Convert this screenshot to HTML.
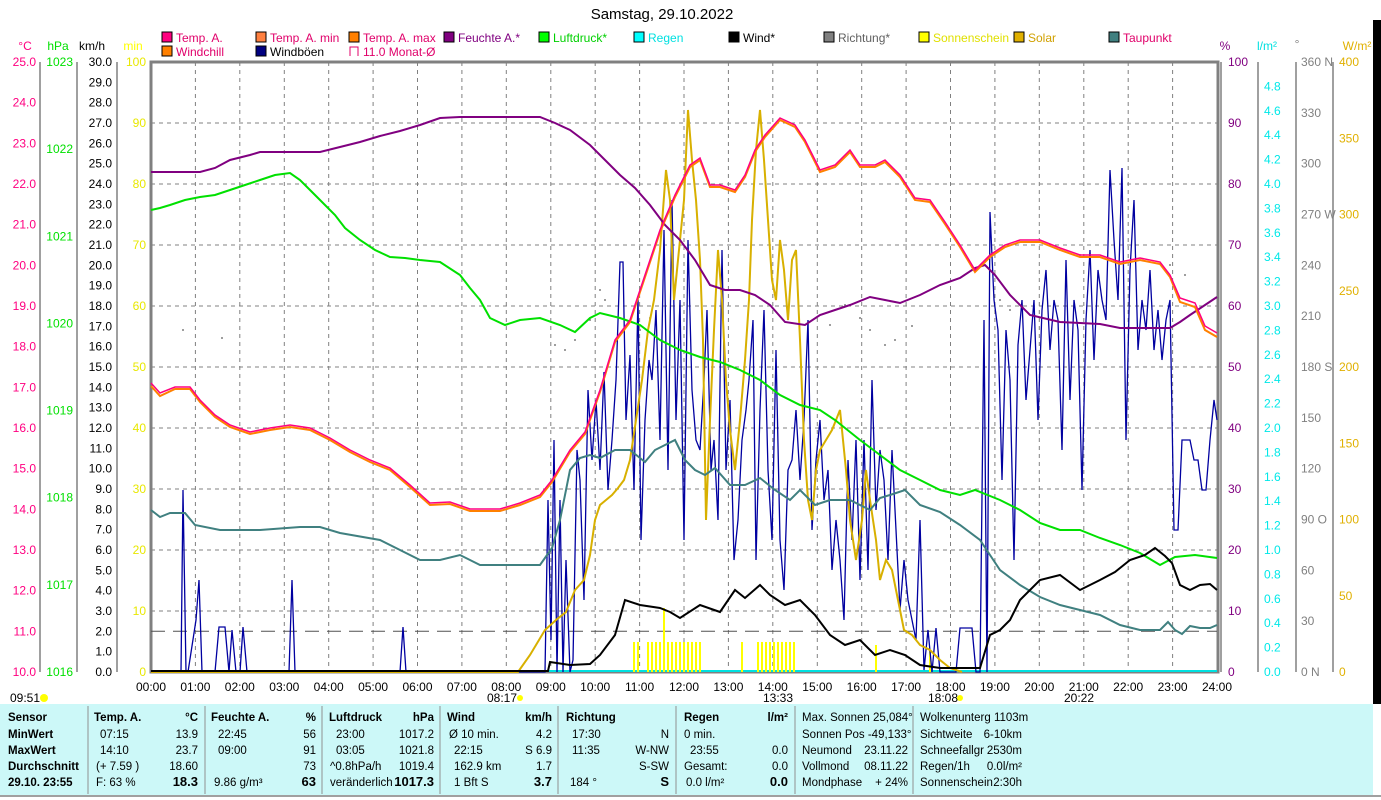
<!DOCTYPE html>
<html><head><meta charset="utf-8"><style>
body{margin:0;background:#fff;width:1381px;height:800px;overflow:hidden;font-family:"Liberation Sans",sans-serif}
svg{position:absolute;left:0;top:0}
</style></head><body>
<svg width="1381" height="800" viewBox="0 0 1381 800" font-family="Liberation Sans, sans-serif" font-size="12">
<rect x="1373" y="20" width="8" height="684" fill="#000"/>
<text x="662" y="19" text-anchor="middle" font-size="15">Samstag, 29.10.2022</text>
<g font-size="12">
<rect x="162" y="32" width="10" height="10" fill="#ff0080" stroke="#000"/><text x="176" y="42" fill="#e0006a">Temp. A.</text>
<rect x="256" y="32" width="10" height="10" fill="#ff8040" stroke="#000"/><text x="270" y="42" fill="#e0006a">Temp. A. min</text>
<rect x="349" y="32" width="10" height="10" fill="#ff8000" stroke="#000"/><text x="363" y="42" fill="#e0006a">Temp. A. max</text>
<rect x="444" y="32" width="10" height="10" fill="#800080" stroke="#000"/><text x="458" y="42" fill="#800080">Feuchte A.*</text>
<rect x="539" y="32" width="10" height="10" fill="#00ff00" stroke="#000"/><text x="553" y="42" fill="#00d000">Luftdruck*</text>
<rect x="634" y="32" width="10" height="10" fill="#00ffff" stroke="#000"/><text x="648" y="42" fill="#00e0e0">Regen</text>
<rect x="729" y="32" width="10" height="10" fill="#000" stroke="#000"/><text x="743" y="42">Wind*</text>
<rect x="824" y="32" width="10" height="10" fill="#808080" stroke="#000"/><text x="838" y="42" fill="#606060">Richtung*</text>
<rect x="919" y="32" width="10" height="10" fill="#ffff00" stroke="#000"/><text x="933" y="42" fill="#e0e000">Sonnenschein</text>
<rect x="1014" y="32" width="10" height="10" fill="#e0b000" stroke="#000"/><text x="1028" y="42" fill="#d0a000">Solar</text>
<rect x="1109" y="32" width="10" height="10" fill="#408080" stroke="#000"/><text x="1123" y="42" fill="#e0006a">Taupunkt</text>
<rect x="162" y="46" width="10" height="10" fill="#ff8000" stroke="#000"/><text x="176" y="56" fill="#e0006a">Windchill</text>
<rect x="256" y="46" width="10" height="10" fill="#000080" stroke="#000"/><text x="270" y="56">Windböen</text>
<path d="M350 56V47h8v9" fill="none" stroke="#e0006a"/><text x="363" y="56" fill="#e0006a">11.0 Monat-Ø</text>
</g>
<text x="25" y="50" fill="#ff0080" text-anchor="middle">°C</text>
<text x="58" y="50" fill="#00e000" text-anchor="middle">hPa</text>
<text x="92" y="50" text-anchor="middle">km/h</text>
<text x="133" y="50" fill="#ffff00" text-anchor="middle">min</text>
<text x="1225" y="50" fill="#800080" text-anchor="middle">%</text>
<text x="1267" y="50" fill="#00e0e0" text-anchor="middle">l/m²</text>
<text x="1297" y="48" fill="#808080" text-anchor="middle">°</text>
<text x="1357" y="50" fill="#e0b000" text-anchor="middle">W/m²</text>
<g stroke="#808080" stroke-width="1.5">
<line x1="40" y1="62" x2="40" y2="672"/><line x1="77" y1="62" x2="77" y2="672"/><line x1="117" y1="62" x2="117" y2="672"/>
<line x1="1258" y1="62" x2="1258" y2="672"/><line x1="1296" y1="62" x2="1296" y2="672"/><line x1="1333" y1="62" x2="1333" y2="672"/>
</g>
<g stroke="#808080" stroke-dasharray="4,4" stroke-width="1">
<path d="M195.4 62V672M239.8 62V672M284.3 62V672M328.7 62V672M373.1 62V672M417.5 62V672M461.9 62V672M506.3 62V672M550.8 62V672M595.2 62V672M639.6 62V672M684 62V672M728.4 62V672M772.8 62V672M817.3 62V672M861.7 62V672M906.1 62V672M950.5 62V672M994.9 62V672M1039.3 62V672M1083.8 62V672M1128.2 62V672M1172.6 62V672"/>
<path d="M151 123H1217M151 184H1217M151 245H1217M151 306H1217M151 367H1217M151 428H1217M151 489H1217M151 550H1217M151 611H1217"/>
</g>
<rect x="151" y="62" width="1067" height="610" fill="none" stroke="#808080" stroke-width="3"/>
<line x1="1221" y1="62" x2="1221" y2="672" stroke="#808080" stroke-width="1.5"/>
<g fill="#ff0080" text-anchor="end" dominant-baseline="central">
<text x="36" y="62">25.0</text><text x="36" y="102.7">24.0</text><text x="36" y="143.3">23.0</text><text x="36" y="184">22.0</text><text x="36" y="224.7">21.0</text><text x="36" y="265.3">20.0</text><text x="36" y="306">19.0</text><text x="36" y="346.7">18.0</text><text x="36" y="387.3">17.0</text><text x="36" y="428">16.0</text><text x="36" y="468.7">15.0</text><text x="36" y="509.3">14.0</text><text x="36" y="550">13.0</text><text x="36" y="590.7">12.0</text><text x="36" y="631.3">11.0</text><text x="36" y="672">10.0</text>
</g>
<g fill="#00e000" text-anchor="end" dominant-baseline="central">
<text x="73" y="62">1023</text><text x="73" y="149.1">1022</text><text x="73" y="236.3">1021</text><text x="73" y="323.4">1020</text><text x="73" y="410.6">1019</text><text x="73" y="497.7">1018</text><text x="73" y="584.9">1017</text><text x="73" y="672">1016</text>
</g>
<g text-anchor="end" dominant-baseline="central">
<text x="112" y="62">30.0</text><text x="112" y="82.3">29.0</text><text x="112" y="102.7">28.0</text><text x="112" y="123">27.0</text><text x="112" y="143.3">26.0</text><text x="112" y="163.7">25.0</text><text x="112" y="184">24.0</text><text x="112" y="204.3">23.0</text><text x="112" y="224.7">22.0</text><text x="112" y="245">21.0</text><text x="112" y="265.3">20.0</text><text x="112" y="285.7">19.0</text><text x="112" y="306">18.0</text><text x="112" y="326.3">17.0</text><text x="112" y="346.7">16.0</text><text x="112" y="367">15.0</text><text x="112" y="387.3">14.0</text><text x="112" y="407.7">13.0</text><text x="112" y="428">12.0</text><text x="112" y="448.3">11.0</text><text x="112" y="468.7">10.0</text><text x="112" y="489">9.0</text><text x="112" y="509.3">8.0</text><text x="112" y="529.7">7.0</text><text x="112" y="550">6.0</text><text x="112" y="570.3">5.0</text><text x="112" y="590.7">4.0</text><text x="112" y="611">3.0</text><text x="112" y="631.3">2.0</text><text x="112" y="651.7">1.0</text><text x="112" y="672">0.0</text>
</g>
<g fill="#e8e800" text-anchor="end" dominant-baseline="central">
<text x="146" y="62">100</text><text x="146" y="123">90</text><text x="146" y="184">80</text><text x="146" y="245">70</text><text x="146" y="306">60</text><text x="146" y="367">50</text><text x="146" y="428">40</text><text x="146" y="489">30</text><text x="146" y="550">20</text><text x="146" y="611">10</text><text x="146" y="672">0</text>
</g>
<g fill="#800080" dominant-baseline="central">
<text x="1228" y="62">100</text><text x="1228" y="123">90</text><text x="1228" y="184">80</text><text x="1228" y="245">70</text><text x="1228" y="306">60</text><text x="1228" y="367">50</text><text x="1228" y="428">40</text><text x="1228" y="489">30</text><text x="1228" y="550">20</text><text x="1228" y="611">10</text><text x="1228" y="672">0</text>
</g>
<g fill="#00e8e8" dominant-baseline="central">
<text x="1264" y="86.4">4.8</text><text x="1264" y="110.8">4.6</text><text x="1264" y="135.2">4.4</text><text x="1264" y="159.6">4.2</text><text x="1264" y="184">4.0</text><text x="1264" y="208.4">3.8</text><text x="1264" y="232.8">3.6</text><text x="1264" y="257.2">3.4</text><text x="1264" y="281.6">3.2</text><text x="1264" y="306">3.0</text><text x="1264" y="330.4">2.8</text><text x="1264" y="354.8">2.6</text><text x="1264" y="379.2">2.4</text><text x="1264" y="403.6">2.2</text><text x="1264" y="428">2.0</text><text x="1264" y="452.4">1.8</text><text x="1264" y="476.8">1.6</text><text x="1264" y="501.2">1.4</text><text x="1264" y="525.6">1.2</text><text x="1264" y="550">1.0</text><text x="1264" y="574.4">0.8</text><text x="1264" y="598.8">0.6</text><text x="1264" y="623.2">0.4</text><text x="1264" y="647.6">0.2</text><text x="1264" y="672">0.0</text>
</g>
<g fill="#808080" dominant-baseline="central">
<text x="1301" y="62">360 N</text><text x="1301" y="112.8">330</text><text x="1301" y="163.7">300</text><text x="1301" y="214.5">270 W</text><text x="1301" y="265.3">240</text><text x="1301" y="316.2">210</text><text x="1301" y="367">180 S</text><text x="1301" y="417.8">150</text><text x="1301" y="468.7">120</text><text x="1301" y="519.5">90  O</text><text x="1301" y="570.3">60</text><text x="1301" y="621.2">30</text><text x="1301" y="672">0   N</text>
</g>
<g fill="#e0b000" dominant-baseline="central">
<text x="1339" y="62">400</text><text x="1339" y="138.3">350</text><text x="1339" y="214.5">300</text><text x="1339" y="290.8">250</text><text x="1339" y="367">200</text><text x="1339" y="443.3">150</text><text x="1339" y="519.5">100</text><text x="1339" y="595.8">50</text><text x="1339" y="672">0</text>
</g>
<g text-anchor="middle">
<text x="151" y="691">00:00</text><text x="195.4" y="691">01:00</text><text x="239.8" y="691">02:00</text><text x="284.3" y="691">03:00</text><text x="328.7" y="691">04:00</text><text x="373.1" y="691">05:00</text><text x="417.5" y="691">06:00</text><text x="461.9" y="691">07:00</text><text x="506.3" y="691">08:00</text><text x="550.8" y="691">09:00</text><text x="595.2" y="691">10:00</text><text x="639.6" y="691">11:00</text><text x="684" y="691">12:00</text><text x="728.4" y="691">13:00</text><text x="772.8" y="691">14:00</text><text x="817.3" y="691">15:00</text><text x="861.7" y="691">16:00</text><text x="906.1" y="691">17:00</text><text x="950.5" y="691">18:00</text><text x="994.9" y="691">19:00</text><text x="1039.3" y="691">20:00</text><text x="1083.8" y="691">21:00</text><text x="1128.2" y="691">22:00</text><text x="1172.6" y="691">23:00</text><text x="1217" y="691">24:00</text>
</g>
<g font-size="12">
<text x="10" y="702">09:51</text><circle cx="44" cy="698" r="4" fill="#ff0"/>
<text x="487" y="702">08:17</text><circle cx="520" cy="698" r="3" fill="#ff0"/>
<text x="763" y="702">13:33</text>
<text x="928" y="702">18:08</text><circle cx="960" cy="698" r="3" fill="#ff0"/>
<text x="1064" y="702">20:22</text>
</g>
<line x1="151" y1="631.3" x2="1217" y2="631.3" stroke="#505050" stroke-dasharray="14,8" stroke-width="1"/>
<line x1="151" y1="671" x2="1217" y2="671" stroke="#00e0e0" stroke-width="2"/>
<g stroke="#ffff00" stroke-width="2">
<path d="M634 672V642M638 672V642M648 672V642M652 672V642M656 672V642M660 672V642M664 672V608M668 672V642M672 672V642M676 672V642M680 672V642M684 672V642M688 672V642M692 672V642M696 672V642M700 672V642M742 672V642M758 672V642M762 672V642M766 672V642M770 672V642M774 672V642M778 672V642M782 672V642M786 672V642M790 672V642M794 672V642M876 672V645M930 672V650"/>
</g>
<g fill="#808080">
<circle cx="183" cy="330" r="1"/><circle cx="222" cy="338" r="1"/><circle cx="555" cy="345" r="1"/><circle cx="565" cy="350" r="1"/><circle cx="575" cy="340" r="1"/><circle cx="590" cy="320" r="1"/><circle cx="600" cy="290" r="1"/><circle cx="605" cy="300" r="1"/><circle cx="640" cy="330" r="1"/><circle cx="650" cy="318" r="1"/><circle cx="830" cy="325" r="1"/><circle cx="845" cy="305" r="1"/><circle cx="860" cy="318" r="1"/><circle cx="870" cy="330" r="1"/><circle cx="885" cy="345" r="1"/><circle cx="895" cy="340" r="1"/><circle cx="912" cy="326" r="1"/><circle cx="1000" cy="300" r="1"/><circle cx="1010" cy="310" r="1"/><circle cx="1060" cy="250" r="1"/><circle cx="1080" cy="255" r="1"/><circle cx="1170" cy="265" r="1"/><circle cx="1185" cy="275" r="1"/>
</g>
<polyline fill="none" stroke="#0000a0" stroke-width="1.3" points="151,672 181,672 183,490 186,672 188,672 196,620 199,580 202,672 215,672 219,627 225,627 229,672 232,630 236,672 240,672 243,627 247,672 289,672 292,580 295,672 400,672 403,627 406,672 545,672 548,500 551,640 554,440 557,672 560,500 563,672 566,560 570,672 573,660 577,450 580,480 584,600 588,390 592,460 596,400 600,470 604,372 608,490 612,440 616,380 620,262 623,262 626,420 630,355 634,490 638,296 641,540 645,420 649,360 652,380 656,310 660,440 664,230 668,470 672,200 676,420 680,300 684,540 688,240 692,390 696,440 700,450 704,380 707,310 711,470 714,440 718,520 722,250 726,470 730,400 734,560 738,520 742,440 746,410 749,380 753,320 756,560 760,410 764,310 768,470 772,540 776,350 780,540 784,590 788,470 792,460 796,410 800,480 804,420 808,320 812,530 816,460 820,420 824,500 828,470 832,570 836,520 840,560 844,620 848,460 852,540 856,440 860,580 864,440 868,570 872,380 876,510 880,450 884,480 888,560 892,450 896,530 900,610 904,560 908,600 912,620 916,640 920,520 924,670 928,630 932,672 936,628 940,672 956,672 960,628 972,628 976,672 980,672 984,320 987,672 990,212 994,300 998,330 1002,480 1006,330 1010,380 1014,560 1018,345 1022,300 1026,400 1030,350 1034,300 1038,420 1042,310 1046,270 1050,350 1054,300 1058,320 1062,450 1066,260 1070,400 1074,300 1078,330 1082,490 1086,320 1090,250 1094,360 1098,270 1102,300 1106,320 1110,170 1114,240 1118,300 1122,168 1126,440 1130,270 1134,200 1138,350 1142,300 1146,330 1150,270 1154,350 1158,310 1162,360 1166,320 1170,300 1174,530 1178,530 1182,440 1186,440 1190,440 1194,460 1198,460 1202,490 1206,490 1210,440 1214,400 1217,420"/>
<polyline fill="none" stroke="#d8b000" stroke-width="2" points="151,672 518,672 530,655 545,630 556,620 566,612 575,590 584,580 590,555 595,520 600,505 606,500 612,495 618,488 624,480 630,460 636,420 642,380 648,330 654,300 660,250 666,170 670,200 674,300 680,240 684,200 688,110 692,160 696,200 700,260 703,340 706,520 710,420 714,330 718,250 722,300 726,380 730,430 735,470 740,420 745,360 749,300 752,220 756,150 760,110 764,160 768,220 772,280 776,300 780,240 784,270 788,320 792,260 796,250 800,340 804,440 808,500 812,520 816,470 820,450 826,440 832,430 840,410 846,470 850,520 856,560 862,520 866,470 870,500 876,540 880,580 886,560 892,570 898,600 904,630 912,635 920,645 930,650 940,660 950,668 962,672"/>
<polyline fill="none" stroke="#408080" stroke-width="2" points="151,510 160,517 170,513 185,513 195,525 220,530 260,530 300,527 320,527 340,533 380,540 400,550 420,560 440,560 460,555 480,565 520,565 540,565 552,548 560,520 570,470 580,458 590,455 600,458 615,450 630,450 645,462 655,450 665,445 675,440 685,460 695,470 705,475 715,468 730,485 745,485 760,478 775,490 790,500 800,490 815,505 830,500 850,500 870,510 880,498 890,495 905,490 920,505 940,512 960,525 980,540 990,555 1000,570 1020,585 1040,597 1060,605 1080,610 1100,615 1120,625 1140,630 1160,630 1168,622 1175,630 1182,634 1190,626 1200,628 1210,628 1217,625"/>
<polyline fill="none" stroke="#00e000" stroke-width="2" points="151,210 160,208 170,205 185,200 200,197 215,195 230,190 245,185 260,180 275,175 290,173 300,180 310,190 320,200 335,215 345,228 360,240 375,250 390,257 405,258 420,260 440,262 460,275 470,288 480,300 490,318 505,325 520,320 540,318 560,325 575,332 590,318 600,313 620,318 640,325 660,340 680,350 700,357 720,362 740,370 760,380 780,395 800,405 820,410 835,420 845,428 860,440 880,455 900,470 920,480 940,490 960,495 975,490 1000,500 1020,510 1040,523 1060,530 1080,530 1100,538 1120,545 1140,553 1160,565 1175,557 1195,555 1217,558"/>
<polyline fill="none" stroke="#800080" stroke-width="2" points="151,172 180,172 200,172 215,168 230,160 250,155 260,152 320,152 340,147 360,142 380,136 400,131 420,125 440,118 460,117 540,117 555,123 570,130 590,145 605,160 620,175 635,188 650,205 665,225 680,240 695,260 710,285 725,290 740,290 755,295 770,305 785,322 805,325 820,315 835,310 850,305 870,297 885,300 900,303 920,295 940,285 960,278 975,268 985,265 995,275 1010,295 1030,315 1060,322 1100,324 1120,328 1170,328 1180,322 1190,315 1205,305 1217,297"/>
<polyline fill="none" stroke="#ff8000" stroke-width="2" points="151,386 160,396 175,389 190,389 200,402 215,417 230,427 250,434 270,430 290,427 310,430 330,440 350,452 370,462 390,470 410,487 430,505 450,504 470,511 500,511 520,505 540,497 552,482 570,452 585,434 600,392 615,342 630,322 645,277 660,232 675,197 690,167 700,160 710,187 720,187 735,192 745,177 755,152 765,137 780,120 795,127 805,142 820,172 835,167 850,152 860,167 875,167 885,162 900,177 915,200 930,202 945,224 960,247 975,272 990,257 1005,247 1020,242 1040,242 1060,250 1080,257 1100,257 1120,264 1140,260 1160,264 1170,277 1180,302 1195,307 1205,330 1217,337"/>
<polyline fill="none" stroke="#ff0080" stroke-width="1.5" points="151,383 160,393 175,387 190,387 200,400 215,415 230,425 250,432 270,428 290,425 310,428 330,438 350,450 370,460 390,468 410,485 430,503 450,502 470,509 500,509 520,503 540,495 552,480 570,450 585,432 600,390 615,340 630,320 645,275 660,230 675,195 690,165 700,158 710,185 720,185 735,190 745,175 755,150 765,135 780,118 795,125 805,140 820,170 835,165 850,150 860,165 875,165 885,160 900,175 915,198 930,200 945,222 960,245 975,270 990,255 1005,245 1020,240 1040,240 1060,248 1080,255 1100,255 1120,262 1140,258 1160,262 1170,275 1180,298 1195,303 1205,326 1217,333"/>
<polyline fill="none" stroke="#000" stroke-width="2" points="151,671 548,671 550,662 570,665 590,664 600,655 615,635 625,600 640,605 660,608 670,612 680,618 700,605 720,612 735,590 745,598 760,585 770,595 785,605 800,600 815,615 830,635 845,645 860,640 875,655 890,650 905,655 920,665 940,668 980,668 990,635 1000,630 1010,620 1020,600 1040,580 1060,575 1080,590 1100,580 1115,572 1130,560 1145,555 1155,548 1165,556 1172,563 1180,585 1190,590 1200,585 1210,584 1217,590"/>
<rect x="0" y="704" width="1373" height="91" fill="#ccf8f8"/>
<line x1="0" y1="796" x2="1381" y2="796" stroke="#a0a0a0" stroke-width="2"/>
<g stroke="#909090"><path d="M88 706V794M205 706V794M322 706V794M440 706V794M558 706V794M676 706V794M795 706V794M913 706V794"/></g>
<g font-size="11.5">
<g font-weight="bold"><text x="8" y="721">Sensor</text><text x="8" y="738">MinWert</text><text x="8" y="754">MaxWert</text><text x="8" y="770">Durchschnitt</text><text x="8" y="786">29.10. 23:55</text></g>
<text x="94" y="721" font-weight="bold">Temp. A.</text><text x="198" y="721" text-anchor="end" font-weight="bold">°C</text>
<text x="100" y="738">07:15</text><text x="198" y="738" text-anchor="end">13.9</text>
<text x="100" y="754">14:10</text><text x="198" y="754" text-anchor="end">23.7</text>
<text x="96" y="770">(+ 7.59 )</text><text x="198" y="770" text-anchor="end">18.60</text>
<text x="96" y="786">F: 63 %</text><text x="198" y="786" text-anchor="end" font-weight="bold" font-size="13">18.3</text>
<text x="211" y="721" font-weight="bold">Feuchte A.</text><text x="316" y="721" text-anchor="end" font-weight="bold">%</text>
<text x="218" y="738">22:45</text><text x="316" y="738" text-anchor="end">56</text>
<text x="218" y="754">09:00</text><text x="316" y="754" text-anchor="end">91</text>
<text x="316" y="770" text-anchor="end">73</text>
<text x="214" y="786">9.86 g/m³</text><text x="316" y="786" text-anchor="end" font-weight="bold" font-size="13">63</text>
<text x="329" y="721" font-weight="bold">Luftdruck</text><text x="434" y="721" text-anchor="end" font-weight="bold">hPa</text>
<text x="336" y="738">23:00</text><text x="434" y="738" text-anchor="end">1017.2</text>
<text x="336" y="754">03:05</text><text x="434" y="754" text-anchor="end">1021.8</text>
<text x="330" y="770">^0.8hPa/h</text><text x="434" y="770" text-anchor="end">1019.4</text>
<text x="330" y="786">veränderlich</text><text x="434" y="786" text-anchor="end" font-weight="bold" font-size="13">1017.3</text>
<text x="447" y="721" font-weight="bold">Wind</text><text x="552" y="721" text-anchor="end" font-weight="bold">km/h</text>
<text x="449" y="738">Ø 10 min.</text><text x="552" y="738" text-anchor="end">4.2</text>
<text x="454" y="754">22:15</text><text x="552" y="754" text-anchor="end">S 6.9</text>
<text x="454" y="770">162.9 km</text><text x="552" y="770" text-anchor="end">1.7</text>
<text x="454" y="786">1 Bft S</text><text x="552" y="786" text-anchor="end" font-weight="bold" font-size="13">3.7</text>
<text x="566" y="721" font-weight="bold">Richtung</text>
<text x="572" y="738">17:30</text><text x="669" y="738" text-anchor="end">N</text>
<text x="572" y="754">11:35</text><text x="669" y="754" text-anchor="end">W-NW</text>
<text x="669" y="770" text-anchor="end">S-SW</text>
<text x="570" y="786">184 °</text><text x="669" y="786" text-anchor="end" font-weight="bold" font-size="13">S</text>
<text x="684" y="721" font-weight="bold">Regen</text><text x="788" y="721" text-anchor="end" font-weight="bold">l/m²</text>
<text x="684" y="738">0 min.</text>
<text x="690" y="754">23:55</text><text x="788" y="754" text-anchor="end">0.0</text>
<text x="684" y="770">Gesamt:</text><text x="788" y="770" text-anchor="end">0.0</text>
<text x="686" y="786">0.0 l/m²</text><text x="788" y="786" text-anchor="end" font-weight="bold" font-size="13">0.0</text>
<text x="802" y="721">Max. Sonnen 25,084°</text>
<text x="802" y="738">Sonnen Pos -49,133°</text>
<text x="802" y="754">Neumond</text><text x="908" y="754" text-anchor="end">23.11.22</text>
<text x="802" y="770">Vollmond</text><text x="908" y="770" text-anchor="end">08.11.22</text>
<text x="802" y="786">Mondphase</text><text x="908" y="786" text-anchor="end">+ 24%</text>
<text x="920" y="721">Wolkenunterg 1103m</text>
<text x="920" y="738">Sichtweite</text><text x="1022" y="738" text-anchor="end">6-10km</text>
<text x="920" y="754">Schneefallgr</text><text x="1022" y="754" text-anchor="end">2530m</text>
<text x="920" y="770">Regen/1h</text><text x="1022" y="770" text-anchor="end">0.0l/m²</text>
<text x="920" y="786">Sonnenschein</text><text x="1022" y="786" text-anchor="end">2:30h</text>
</g>
</svg>
</body></html>
